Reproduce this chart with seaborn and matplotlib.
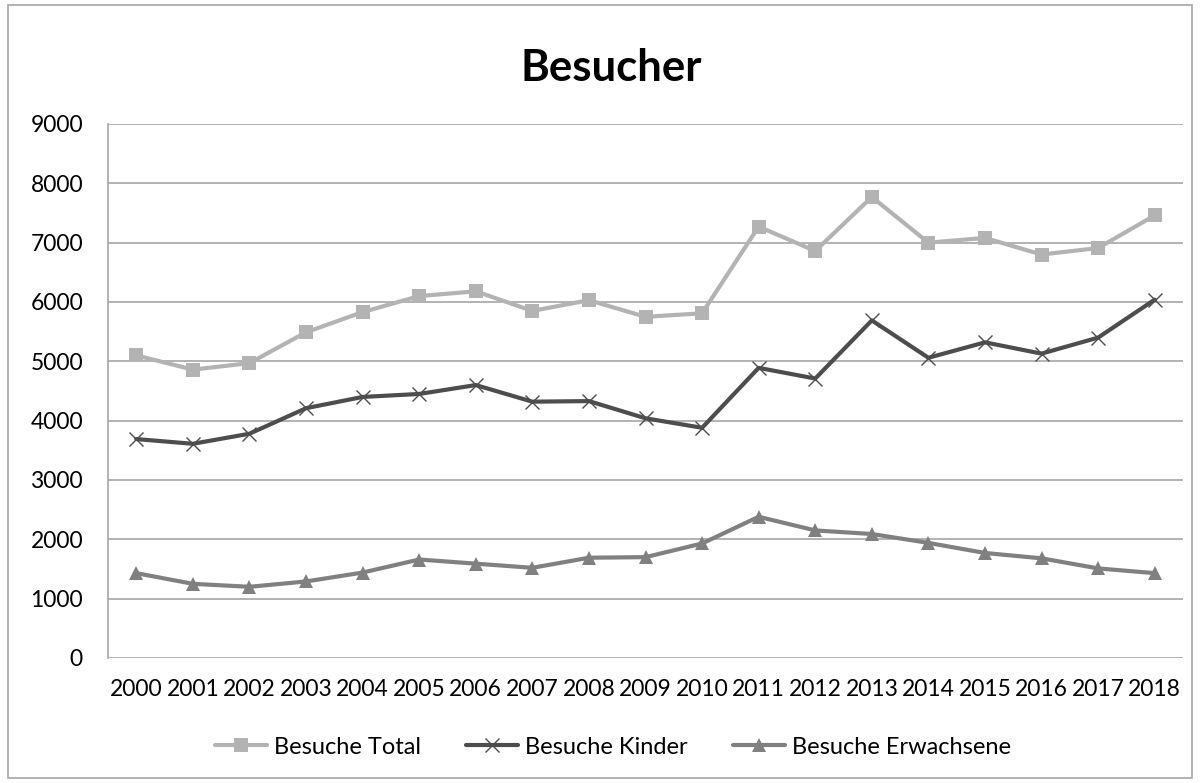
import matplotlib
matplotlib.use("Agg")
import matplotlib.pyplot as plt
from matplotlib.patches import Rectangle
import seaborn as sns
import pandas as pd

years = [str(y) for y in range(2000, 2019)]
total = [5100, 4860, 4970, 5490, 5830, 6100, 6180, 5850, 6030, 5750, 5810,
         7270, 6860, 7770, 7000, 7080, 6800, 6910, 7460]
kinder = [3690, 3610, 3780, 4210, 4400, 4450, 4600, 4320, 4330, 4040, 3880,
          4890, 4710, 5690, 5060, 5320, 5130, 5400, 6040]
erwachsene = [1430, 1250, 1200, 1290, 1440, 1660, 1590, 1520, 1690, 1700, 1930,
              2380, 2150, 2090, 1940, 1770, 1680, 1510, 1430]
series_names = ["Besuche Total", "Besuche Kinder", "Besuche Erwachsene"]
y_ticks = [0, 1000, 2000, 3000, 4000, 5000, 6000, 7000, 8000, 9000]

sns.set_theme(style="white")
plt.rcParams['font.family'] = ['Lato', 'DejaVu Sans']
plt.rcParams['text.color'] = '#000000'
plt.rcParams['axes.labelcolor'] = '#000000'
plt.rcParams['xtick.color'] = '#000000'
plt.rcParams['ytick.color'] = '#000000'

fig = plt.figure(figsize=(12, 7.83), dpi=100)
ax = fig.add_axes([108/1200, 1 - 658/783, 1075/1200, (658 - 124)/783])

pos = list(range(len(years)))
styles = [
    (total, "#B3B3B3", "s", 10, None),
    (kinder, "#4D4D4D", "x", 10, 1.0),
    (erwachsene, "#808080", "^", 10, None),
]
for name, (vals, col, mk, ms, mew) in zip(series_names, styles):
    df = pd.DataFrame({"x": pos, "y": vals})
    kw = dict(marker=mk, markersize=ms, markeredgecolor=col, markerfacecolor=col)
    kw["markeredgewidth"] = mew if mew is not None else 0
    sns.lineplot(data=df, x="x", y="y", ax=ax, color=col, linewidth=3.0,
                 label=name, **kw)

ax.set_xlim(-0.5, len(years) - 0.5)
ax.set_ylim(0, 9000)
ax.set_yticks(y_ticks)
ax.set_yticklabels([str(t) for t in y_ticks])
ax.set_xticks(pos)
ax.set_xticklabels(years)
ax.tick_params(axis="both", labelsize=16.5, colors="#000000", length=0)
ax.tick_params(axis="x", pad=15)
ax.tick_params(axis="y", pad=18)
ax.set_xlabel("")
ax.set_ylabel("")
ax.yaxis.grid(True, color="#A6A6A6", linewidth=1.2)
ax.xaxis.grid(False)
for s in ["top", "right", "bottom"]:
    ax.spines[s].set_visible(False)
ax.spines["left"].set_color("#A6A6A6")
ax.spines["left"].set_linewidth(1.2)
ax.set_axisbelow(True)

fig.text(611/1200, 1 - 68/783, "Besucher", ha="center", va="center",
         fontsize=31.5, fontweight="bold", color="#000000")

if ax.legend_:
    ax.legend_.remove()
handles, labels = ax.get_legend_handles_labels()
fig.legend(handles, labels, loc="center", bbox_to_anchor=(613/1200, 1 - 747/783),
           ncol=3, frameon=False, fontsize=17, handlelength=2.2,
           columnspacing=1.9, handletextpad=0.3, labelcolor="#000000")

fig.patches.append(Rectangle((8/1200, 5/783), 1184/1200, 773/783,
                             transform=fig.transFigure, fill=False,
                             edgecolor="#A6A6A6", linewidth=1.2))

fig.savefig("out.png", dpi=100)
